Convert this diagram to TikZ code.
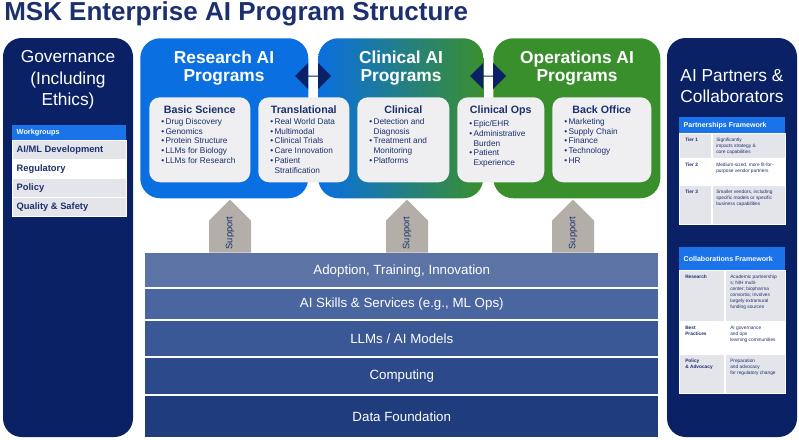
\documentclass[tikz,border=0pt]{standalone}
\usepackage{fontspec}
\setmainfont{Liberation Sans}
\usetikzlibrary{shapes.arrows}
\definecolor{navy}{HTML}{0B2165}
\definecolor{hdrblue}{HTML}{1A73E8}
\definecolor{resblue}{HTML}{0A6FE0}
\definecolor{opsgreen}{HTML}{3A8F2D}
\definecolor{rowgrey}{HTML}{E4E5EA}
\definecolor{boxgrey}{HTML}{EFEFF1}
\definecolor{suparrow}{HTML}{B3AFA8}
\definecolor{titlenavy}{HTML}{1C2F6E}
\begin{document}
\begin{tikzpicture}[
        x=0.75pt, y=-0.75pt,
        panel/.style = {fill=navy, rounded corners=14pt},
        prog/.style = {rounded corners=15pt, anchor=north west, inner sep=0pt},
        progtitle/.style = {text=white, font=\fontsize{13}{14}\selectfont\bfseries, align=center},
        inbox/.style = {fill=boxgrey, rounded corners=8pt, anchor=north west, inner sep=0pt},
        intitle/.style = {text=titlenavy, font=\fontsize{8}{9}\selectfont\bfseries, anchor=north},
        items/.style = {text=titlenavy, font=\fontsize{6.2}{7.3}\selectfont, align=left, anchor=north west, inner sep=0pt},
        hdr/.style = {fill=hdrblue, text=white, anchor=north west, inner sep=0pt, font=\bfseries},
        row/.style = {anchor=north west, inner sep=0pt, draw=white, line width=0.6pt},
        rowtxt/.style = {text=titlenavy, align=left, anchor=north west, inner sep=0pt},
        layer/.style = {anchor=north west, inner sep=0pt, text=white, font=\fontsize{10}{12}\selectfont, minimum width=513*0.75pt},
        support/.style = {single arrow, fill=suparrow, shape border rotate=90, minimum width=42*0.75pt, single arrow head extend=0pt, single arrow tip angle=90, minimum height=53*0.75pt, inner sep=0pt, anchor=south},
        link/.style = {double arrow, fill=navy, minimum width=26*0.75pt, minimum height=36*0.75pt, double arrow head extend=5pt, inner sep=0pt}
    ]
    \useasboundingbox (0,0) rectangle (799,439);
    \fill[white] (0,0) rectangle (799,439);
    % title
    \node[anchor=west, text=titlenavy, font=\fontsize{19.5}{20}\selectfont\bfseries, inner sep=0pt] (title) at (4,14) {MSK Enterprise AI Program Structure};
    % side panels
    \fill[panel] (3,38) rectangle (133,437);
    \fill[panel] (667,38) rectangle (797,437);
    \node[text=white, font=\fontsize{13}{16}\selectfont, align=center] (gov) at (68,80) {Governance\\(Including\\Ethics)};
    \node[text=white, font=\fontsize{13}{16}\selectfont, align=center] (partners) at (732,86) {AI Partners \&\\Collaborators};
    % workgroups
    \node[hdr, minimum width=114*0.75pt, minimum height=15*0.75pt, font=\fontsize{5.5}{6}\selectfont\bfseries] (wg) at (12,125) {};
    \node[anchor=west, text=white, font=\fontsize{5.5}{6}\selectfont\bfseries] at (wg.west) {Workgroups};
    \foreach \t/\y/\c [count=\i] in {{AI/ML Development}/140/rowgrey, Regulatory/159/white, Policy/178/rowgrey, Quality \& Safety/197/rowgrey} {
        \node[row, fill=\c, minimum width=114*0.75pt, minimum height=18.5*0.75pt] (wg\i) at (12,\y) {};
        \node[anchor=west, text=titlenavy, font=\fontsize{7}{8}\selectfont\bfseries] at (wg\i.west) {\t};
    }
    % partnerships framework
    \node[hdr, minimum width=106*0.75pt, minimum height=16*0.75pt, font=\fontsize{5.3}{6}\selectfont\bfseries] (pf) at (679,117) {};
    \node[anchor=west, text=white, font=\fontsize{5.3}{6}\selectfont\bfseries] at (pf.west) {Partnerships Framework};
    \foreach \a/\b/\y/\h/\c [count=\i] in {Tier 1/{Significantly\\impacts strategy \&\\core capabilities}/133/25/rowgrey,
            Tier 2/{Medium-sized, more fit-for-\\purpose vendor partners}/158/27/white,
            Tier 3/{Smaller vendors, including\\specific models or specific\\business capabilities}/185/39/rowgrey} {
        \node[row, fill=\c, minimum width=106*0.75pt, minimum height=\h*0.75pt] (pt\i) at (679,\y) {};
        \draw[white, line width=0.8pt] (712,\y) -- ++(0,\h);
        \node[rowtxt, font=\fontsize{3.6}{4.4}\selectfont\bfseries] at (685,\y+5) {\a};
        \node[rowtxt, font=\fontsize{3.6}{4.4}\selectfont] at (716,\y+5) {\b};
    }
    % collaborations framework
    \node[hdr, minimum width=106*0.75pt, minimum height=23*0.75pt, font=\fontsize{5.3}{6}\selectfont\bfseries] (cf) at (679,247) {};
    \node[anchor=west, text=white, font=\fontsize{5.3}{6}\selectfont\bfseries] at (cf.west) {Collaborations Framework};
    \foreach \a/\b/\y/\h/\c [count=\i] in {Research/{Academic partnership\\s; NIH multi-\\center; biopharma\\consortia; Involves\\largely extramural\\funding sources}/270/51/rowgrey,
            {Best\\Practices}/{AI governance\\and ops\\learning communities}/321/33/white,
            {Policy\\\& Advocacy}/{Preparation\\and advocacy\\for regulatory change}/354/39/rowgrey} {
        \node[row, fill=\c, minimum width=106*0.75pt, minimum height=\h*0.75pt] (ct\i) at (679,\y) {};
        \draw[white, line width=0.8pt] (725,\y) -- ++(0,\h);
        \node[rowtxt, font=\fontsize{3.6}{4.4}\selectfont\bfseries] at (685,\y+5) {\a};
        \node[rowtxt, font=\fontsize{3.6}{4.4}\selectfont] at (730,\y+5) {\b};
    }
    % program boxes
    \node[prog, fill=resblue, minimum width=168*0.75pt, minimum height=160*0.75pt] (research) at (140,38) {};
    \node[prog, left color=resblue, right color=opsgreen, minimum width=165*0.75pt, minimum height=160*0.75pt] (clinical) at (318,38) {};
    \node[prog, fill=opsgreen, minimum width=167*0.75pt, minimum height=160*0.75pt] (ops) at (493,38) {};
    \node[progtitle] at (224,68) {Research AI\\Programs};
    \node[progtitle] at (401,68) {Clinical AI\\Programs};
    \node[progtitle] at (577,68) {Operations AI\\Programs};
    \node[link] (l1) at (313,76) {};
    \node[link] (l2) at (488,76) {};
    % inner boxes
    \foreach \n/\x/\w/\t/\l in {basic/149/101/Basic Science/{\textbullet\,Drug Discovery\\\textbullet\,Genomics\\\textbullet\,Protein Structure\\\textbullet\,LLMs for Biology\\\textbullet\,LLMs for Research},
            trans/258/91/Translational/{\textbullet\,Real World Data\\\textbullet\,Multimodal\\\textbullet\,Clinical Trials\\\textbullet\,Care Innovation\\\textbullet\,Patient\\\phantom{\textbullet\,}Stratification},
            clin/357/92/Clinical/{\textbullet\,Detection and\\\phantom{\textbullet\,}Diagnosis\\\textbullet\,Treatment and\\\phantom{\textbullet\,}Monitoring\\\textbullet\,Platforms},
            cops/457/87/Clinical Ops/{\textbullet\,Epic/EHR\\\textbullet\,Administrative\\\phantom{\textbullet\,}Burden\\\textbullet\,Patient\\\phantom{\textbullet\,}Experience},
            back/552/99/Back Office/{\textbullet\,Marketing\\\textbullet\,Supply Chain\\\textbullet\,Finance\\\textbullet\,Technology\\\textbullet\,HR}} {
        \node[inbox, minimum width=\w*0.75pt, minimum height=85*0.75pt] (\n) at (\x,97) {};
        \node[intitle] (\n-t) at ([yshift=-3pt]\n.north) {\t};
        \node[items] at ([xshift=9pt]\n.west |- \n-t.south) {\l};
    }
    % foundation layers
    \foreach \t/\y/\h/\c [count=\i] in {{Adoption, Training, Innovation}/253/35/5C74A5,
            {AI Skills \& Services (e.g., ML Ops)}/288/32/4A66A0,
            {LLMs / AI Models}/320/37/3A5895,
            Computing/357/38/2C4A8A,
            Data Foundation/395/42/1F3C7C} {
        \definecolor{lc}{HTML}{\c}
        \node[layer, fill=lc, minimum height=\h*0.75pt] (layer\i) at (145,\y) {\t};
    }
    \fill[white] (145,287) rectangle (658,289);
    \fill[white] (145,319) rectangle (658,321);
    \fill[white] (145,356) rectangle (658,358);
    \fill[white] (145,394) rectangle (658,396);
    % support arrows
    \foreach \x [count=\i] in {230,407,573} {
        \node[support] (sup\i) at (\x,253) {};
        \node[rotate=90, text=titlenavy, font=\fontsize{7}{8}\selectfont] at (\x,233) {Support};
    }
\end{tikzpicture}
\end{document}
